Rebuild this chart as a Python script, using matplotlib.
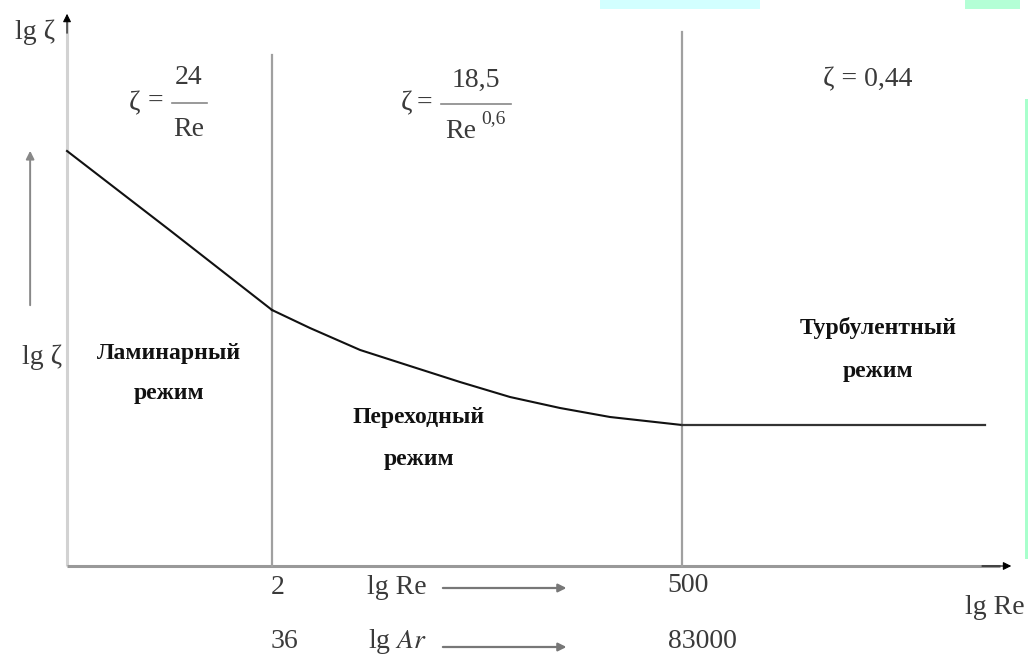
import matplotlib.pyplot as plt
from matplotlib.patches import Rectangle

plt.rcParams['font.family'] = ['Liberation Serif', 'DejaVu Serif']
plt.rcParams['mathtext.fontset'] = 'stix'

# schematic coordinates: x = lg Re in "regime units" (Re=2 -> 1, Re=500 -> 3),
# y = lg zeta in arbitrary units
bound_x = [1.0, 3.0]
bound_top = [5.11, 5.34]
re_labels = ['2', '500']
ar_labels = ['36', '83000']

lam_x = [0.0, 0.5, 1.0]
lam_y = [4.15, 3.36, 2.56]
trans_x = [1.0, 1.185, 1.43, 1.673, 1.917, 2.161, 2.405, 2.649, 3.0]
trans_y = [2.56, 2.38, 2.16, 2.00, 1.84, 1.69, 1.58, 1.49, 1.41]
turb_x = [3.0, 4.48]
turb_y = [1.41, 1.41]

regimes = [('Ламинарный', 'режим'), ('Переходный', 'режим'), ('Турбулентный', 'режим')]

fig = plt.figure(figsize=(10.28, 6.59), dpi=100)
ax = fig.add_axes([0, 0, 1, 1])
ax.set_xlim(-0.327, 4.688)
ax.set_ylim(-0.93, 5.66)
ax.axis('off')

# decorative slide bits at the edges
fig.add_artist(Rectangle((600 / 1028, 1 - 9 / 659), 160 / 1028, 9 / 659,
                         transform=fig.transFigure, color='#d2ffff', lw=0))
fig.add_artist(Rectangle((965 / 1028, 1 - 9 / 659), 55 / 1028, 9 / 659,
                         transform=fig.transFigure, color='#b4ffd6', lw=0))
fig.add_artist(Rectangle((1025 / 1028, 100 / 659), 3 / 1028, 460 / 659,
                         transform=fig.transFigure, color='#a8ffcc', lw=0))

# axes
ax.plot([0, 0], [0, 5.45], color='#d2d2d2', lw=2.2, solid_capstyle='butt')
ax.annotate('', xy=(0, 5.55), xytext=(0, 5.3),
            arrowprops=dict(arrowstyle='-|>', color='black', lw=0.8,
                            mutation_scale=12))
ax.plot([0, 4.55], [0, 0], color='#999999', lw=2.2, solid_capstyle='butt')
ax.annotate('', xy=(4.62, 0), xytext=(4.45, 0),
            arrowprops=dict(arrowstyle='-|>', color='black', lw=0.8,
                            mutation_scale=12))

# regime boundaries
for bx, bt in zip(bound_x, bound_top):
    ax.plot([bx, bx], [0, bt], color='#a0a0a0', lw=1.6)

# resistance curve
ax.plot(lam_x, lam_y, color='#111111', lw=1.5)
ax.plot(trans_x, trans_y, color='#111111', lw=1.5)
ax.plot(turb_x, turb_y, color='#333333', lw=1.6)

# left arrow and axis labels
ax.annotate('', xy=(-0.18, 4.18), xytext=(-0.18, 2.58),
            arrowprops=dict(arrowstyle='-|>', color='#888888', lw=1.4,
                            mutation_scale=12))
tc = '#3a3a3a'
fs = 20
ax.text(-0.156, 5.34, 'lg ζ', fontsize=fs, color=tc, ha='center', va='center')
ax.text(-0.122, 2.09, 'lg ζ', fontsize=fs, color=tc, ha='center', va='center')

# formulas
ax.text(0.33, 4.62, 'ζ', fontsize=fs, color=tc, ha='center', va='center')
ax.text(0.43, 4.65, '=', fontsize=fs, color=tc, ha='center', va='center')
ax.plot([0.512, 0.683], [4.63, 4.63], color='#888888', lw=1.2)
ax.text(0.595, 4.89, '24', fontsize=fs, color=tc, ha='center', va='center')
ax.text(0.595, 4.36, 'Re', fontsize=fs, color=tc, ha='center', va='center')

ax.text(1.654, 4.62, 'ζ', fontsize=fs, color=tc, ha='center', va='center')
ax.text(1.746, 4.63, '=', fontsize=fs, color=tc, ha='center', va='center')
ax.plot([1.824, 2.166], [4.62, 4.62], color='#888888', lw=1.2)
ax.text(1.995, 4.86, '18,5', fontsize=fs, color=tc, ha='center', va='center')
ax.text(1.922, 4.34, 'Re', fontsize=fs, color=tc, ha='center', va='center')
ax.text(2.078, 4.47, '0,6', fontsize=14, color=tc, ha='center', va='center')

ax.text(3.907, 4.86, 'ζ = 0,44', fontsize=fs, color=tc, ha='center', va='center')

# regime names
name_pos = [(0.498, 2.13, 1.73), (1.717, 1.48, 1.06), (3.956, 2.38, 1.95)]
for (l1, l2), (nx, y1, y2) in zip(regimes, name_pos):
    ax.text(nx, y1, l1, fontsize=17, fontweight='bold', color='#111111',
            ha='center', va='center')
    ax.text(nx, y2, l2, fontsize=17, fontweight='bold', color='#111111',
            ha='center', va='center')

# bottom scales
ax.text(bound_x[0] + 0.03, -0.22, re_labels[0], fontsize=fs, color=tc,
        ha='center', va='center')
ax.text(bound_x[1] + 0.03, -0.19, re_labels[1], fontsize=fs, color=tc,
        ha='center', va='center')
ax.text(bound_x[0] + 0.063, -0.76, ar_labels[0], fontsize=fs, color=tc,
        ha='center', va='center')
ax.text(bound_x[1] + 0.10, -0.75, ar_labels[1], fontsize=fs, color=tc,
        ha='center', va='center')

ax.text(1.61, -0.22, 'lg Re', fontsize=fs, color=tc, ha='center', va='center')
ax.text(1.61, -0.76, 'lg $Ar$', fontsize=fs, color=tc,
        ha='center', va='center')
for ay in [-0.22, -0.81]:
    ax.annotate('', xy=(2.45, ay), xytext=(1.82, ay),
                arrowprops=dict(arrowstyle='-|>', color='#777777', lw=1.6,
                                mutation_scale=12))
ax.text(4.527, -0.42, 'lg Re', fontsize=fs, color=tc, ha='center', va='center')

fig.savefig('out.png', dpi=100)
